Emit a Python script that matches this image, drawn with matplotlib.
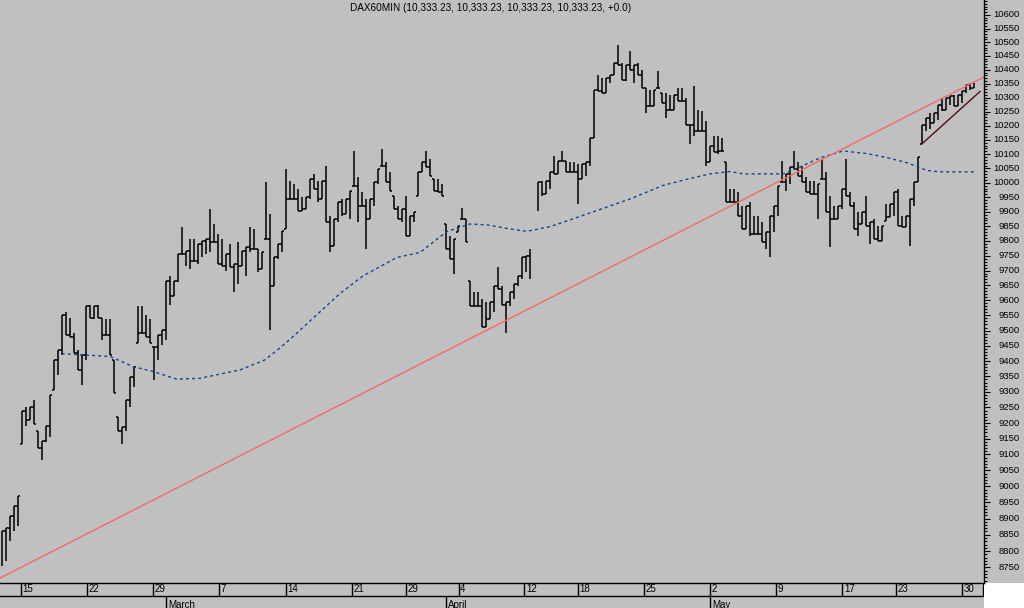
import numpy as np
import matplotlib
matplotlib.use("Agg")
import matplotlib.pyplot as plt
from matplotlib.ticker import FixedLocator, NullFormatter
from matplotlib.patches import Rectangle

plt.rcParams['font.family'] = ['Liberation Sans', 'DejaVu Sans']

title = "DAX60MIN (10,333.23, 10,333.23, 10,333.23, 10,333.23, +0.0)"

# hourly bars (high / low), one entry per bar, nan = no data
bar_high = [
    8862, 8871, 8908, 8940, 8971,
    9240, 9250, 9250, 9273, 9176,
    9144, 9192, 9289, 9404, 9437,
    9553, 9560, 9543, 9493, 9437,
    9421, 9580, 9586, 9580, 9586,
    9543, 9537, 9537, 9404, 9218,
    9186, 9273, 9348, 9381, 9580,
    9580, 9553, 9537, 9447, 9486,
    9503, 9664, 9681, 9664, 9756,
    9848, 9766, 9807, 9807, 9790,
    9800, 9807, 9910, 9858, 9824,
    9807, 9756, 9790, 9722, 9797,
    9766, 9780, 9848, 9841, 9773,
    9763, 10004, 9892, 9746, 9790,
    9834, 10049, 10007, 9997, 9979,
    9951, 9951, 10014, 10032, 10007,
    10007, 10060, 9886, 9875, 9934,
    9944, 9944, 9972, 10112, 10021,
    9969, 9944, 9944, 10004, 10049,
    10119, 10073, 10039, 9955, 9920,
    9910, 9955, 9886, 9899, 10039,
    10073, 10112, 10084, 10014, 10014,
    9997, 9858, 9817, 9807, 9851,
    9913, 9875, 9664, 9627, 9627,
    9603, 9593, 9593, 9647, 9711,
    9647, 9593, 9627, 9654, 9681,
    9746, 9749, 9773, np.nan, 10004,
    10007, 10007, 10039, 10095, 10077,
    10112, 10077, 10073, 10073, 10066,
    10066, 10073, 10155, 10326, 10381,
    10370, 10370, 10381, 10424, 10490,
    10424, 10417, 10468, 10417, 10424,
    10399, 10333, 10326, 10326, 10395,
    10315, 10315, 10308, 10308, 10333,
    10333, 10298, 10201, 10340, 10255,
    10251, 10215, 10130, 10162, 10162,
    10155, 10073, 9979, 9979, 9969,
    9920, 9920, 9934, 9886, 9886,
    9865, 9831, 9886, 9920, 9990,
    10077, 10032, 10056, 10112, 10073,
    10060, 10021, 10007, 10007, 9997,
    10084, 10039, 9955, 9920, 9920,
    9979, 10084, 9969, 9934, 9899,
    9899, 9955, 9865, 9875, 9851,
    9851, 9927, 9927, 9969, 9979,
    9886, 9886, 9944, 10004, 10091,
    10201, 10226, 10244, 10244, 10273,
    10298, 10298, 10305, 10308, 10308,
    10322, 10344, 10351, 10351,
]
bar_low = [
    8756, 8771, 8832, 8862, 8877,
    9134, 9192, 9208, 9198, 9122,
    9083, 9138, 9154, 9305, 9355,
    9421, 9486, 9480, 9427, 9371,
    9322, 9404, 9543, 9537, 9543,
    9470, 9486, 9421, 9296, 9176,
    9134, 9176, 9250, 9315, 9460,
    9493, 9480, 9460, 9338, 9404,
    9453, 9470, 9586, 9614, 9661,
    9756, 9715, 9704, 9732, 9722,
    9746, 9756, 9763, 9797, 9722,
    9715, 9698, 9711, 9627, 9654,
    9715, 9681, 9763, 9773, 9694,
    9704, 9807, 9503, 9647, 9739,
    9763, 9841, 9944, 9944, 9903,
    9903, 9910, 9944, 9979, 9934,
    9944, 9865, 9763, 9783, 9865,
    9886, 9893, 9875, 9990, 9865,
    9920, 9773, 9875, 9920, 9997,
    10060, 10004, 9972, 9910, 9875,
    9865, 9817, 9817, 9865, 9955,
    10039, 10056, 10025, 9972, 9969,
    9955, 9773, 9739, 9688, 9831,
    9875, 9797, 9580, 9580, 9580,
    9513, 9513, 9537, 9560, 9637,
    9586, 9493, 9580, 9603, 9647,
    9671, 9694, 9671, np.nan, 9903,
    9955, 9962, 9979, 10032, 10032,
    10077, 10039, 10039, 10039, 9927,
    10014, 10025, 10060, 10155, 10322,
    10315, 10315, 10351, 10381, 10417,
    10362, 10359, 10399, 10351, 10381,
    10333, 10244, 10269, 10269, 10333,
    10280, 10226, 10255, 10255, 10287,
    10287, 10201, 10137, 10165, 10180,
    10183, 10060, 10073, 10109, 10102,
    10112, 9934, 9934, 9934, 9886,
    9841, 9841, 9817, 9824, 9824,
    9797, 9773, 9746, 9831, 9886,
    10004, 9972, 9997, 10049, 10025,
    10004, 9969, 9962, 9962, 9875,
    10014, 9899, 9780, 9875, 9875,
    9910, 9955, 9920, 9841, 9817,
    9858, 9851, 9790, 9807, 9800,
    9800, 9868, 9882, 9886, 9851,
    9848, 9848, 9783, 9920, 10004,
    10137, 10183, 10190, 10208, 10219,
    10251, 10255, 10273, 10269, 10269,
    10280, 10315, 10326, 10333,
]

# moving average (read at a few bar positions)
ma_x = [14.9, 27, 32.75, 37.75, 43.7, 49.5, 59.5, 65.75, 69.5, 72.4, 84.5, 90.25,
        98.7, 104.5, 109.5, 111.2, 117, 121.2, 127, 131.2, 137, 140.3, 148.7,
        157, 165.3, 171.2, 177, 182, 185.3, 195.3, 199.5, 204.5, 210.3, 216.2,
        221.2, 226.2, 231.2, 234.5, 243.2]
ma_y = [9424, 9415, 9382, 9366, 9341, 9344, 9371, 9404, 9443, 9476, 9623, 9682,
        9744, 9761, 9814, 9832, 9858, 9855, 9841, 9833, 9849, 9864, 9904,
        9944, 9991, 10012, 10031, 10039, 10031, 10031, 10055, 10087, 10111, 10102,
        10088, 10070, 10043, 10038, 10038]

# trend lines
trend_x = [-0.5, 245.5]
trend_y = [8718, 10374]
wedge_x = [229.9, 244.5]
wedge_y = [10135, 10322]

# date axis
day_labels = ["15", "22", "29", "7", "14", "21", "29", "4", "12", "18", "25",
              "2", "9", "17", "23", "30"]
day_pos = [4.675, 21.175, 37.75, 54.175, 71, 87.5, 100.925, 114.175, 130.575,
           143.925, 160.5, 176.925, 193.425, 210.075, 223.425, 240]
month_labels = ["March", "April", "May"]
month_pos = [40.925, 110.925, 176.925]

bg = '#c0c0c0'
W, H = 1024, 608
fig = plt.figure(figsize=(W / 100, H / 100), dpi=100, facecolor=bg)

ax = fig.add_axes([0, 25 / H, 984 / W, 583 / H])
ax.set_facecolor(bg)
ax.set_yscale('log')
ax.set_ylim(8703, 10655)
ax.set_xlim(-0.5, 245.5)

hi = np.array(bar_high, dtype=float)
lo = np.array(bar_low, dtype=float)
x = np.arange(len(hi))
ok = ~np.isnan(hi)
ax.vlines(x[ok], lo[ok], hi[ok], colors='black', linewidth=1.1)

# small open/close ticks: each bar hands over to its neighbour at the
# level where their ranges meet
tick = 0.45
for i in range(len(hi) - 1):
    j = i + 1
    if not (ok[i] and ok[j]):
        continue
    top = min(hi[i], hi[j])
    bot = max(lo[i], lo[j])
    if bot <= top:
        out_i = in_j = top if hi[j] > hi[i] else bot
    else:
        out_i = hi[i] if lo[j] > hi[i] else lo[i]
        in_j = lo[j] if lo[j] > hi[i] else hi[j]
    ax.hlines(out_i, x[i], x[i] + tick, colors='black', linewidth=1.1)
    ax.hlines(in_j, x[j] - tick, x[j], colors='black', linewidth=1.1)

ax.plot(ma_x, ma_y, color='#14468c', linestyle=(0, (2.2, 2.2)), linewidth=1.0)
ax.plot(trend_x, trend_y, color='#f26a6a', linewidth=1.0)
ax.plot(wedge_x, wedge_y, color='#5a0a0a', linewidth=1.0)

for s in ['top', 'left']:
    ax.spines[s].set_visible(False)
ax.spines['right'].set_linewidth(1.0)
ax.spines['bottom'].set_linewidth(1.0)
ax.xaxis.set_visible(False)

major = list(range(8750, 10601, 50))
minor = list(range(8710, 10655, 10))
ax.yaxis.tick_right()
ax.yaxis.set_major_locator(FixedLocator(major))
ax.yaxis.set_minor_locator(FixedLocator(minor))
ax.yaxis.set_major_formatter(NullFormatter())
ax.yaxis.set_minor_formatter(NullFormatter())
ax.tick_params(axis='y', which='major', direction='out', length=4.3, width=0.8, color='black')
ax.tick_params(axis='y', which='minor', direction='out', length=2.2, width=0.8, color='black')
for v in major:
    ax.text(1020 / 984, v, str(v), transform=ax.get_yaxis_transform(),
            ha='right', va='center', fontsize=6.8, clip_on=False)

fig.text(491 / W, 1 - 8 / H, title, ha='center', va='center', fontsize=7.2)

# date strip
ax2 = fig.add_axes([0, 0, 984 / W, 25 / H])
ax2.set_facecolor(bg)
ax2.set_xlim(-0.5, 245.5)
ax2.set_ylim(0, 25)
ax2.axis('off')
ax2.axhline(12, color='black', linewidth=1.0)
ax2.vlines(day_pos, 12, 25, colors='black', linewidth=1.0)
ax2.vlines(month_pos, 0, 12, colors='black', linewidth=1.0)
ax2.vlines([245.3], 12, 25, colors='black', linewidth=1.0)
for lab, p in zip(day_labels, day_pos):
    ax2.text(p + 0.4, 18.5, lab, ha='left', va='center', fontsize=7)
for lab, p in zip(month_labels, month_pos):
    ax2.text(p + 0.6, 3.5, lab, ha='left', va='center', fontsize=7, clip_on=False)

fig.patches.append(Rectangle((984 / W, 0), 40 / W, 25 / H, transform=fig.transFigure,
                             facecolor='white', edgecolor='none', zorder=-1))

fig.savefig('out.png', dpi=100, facecolor=bg)
